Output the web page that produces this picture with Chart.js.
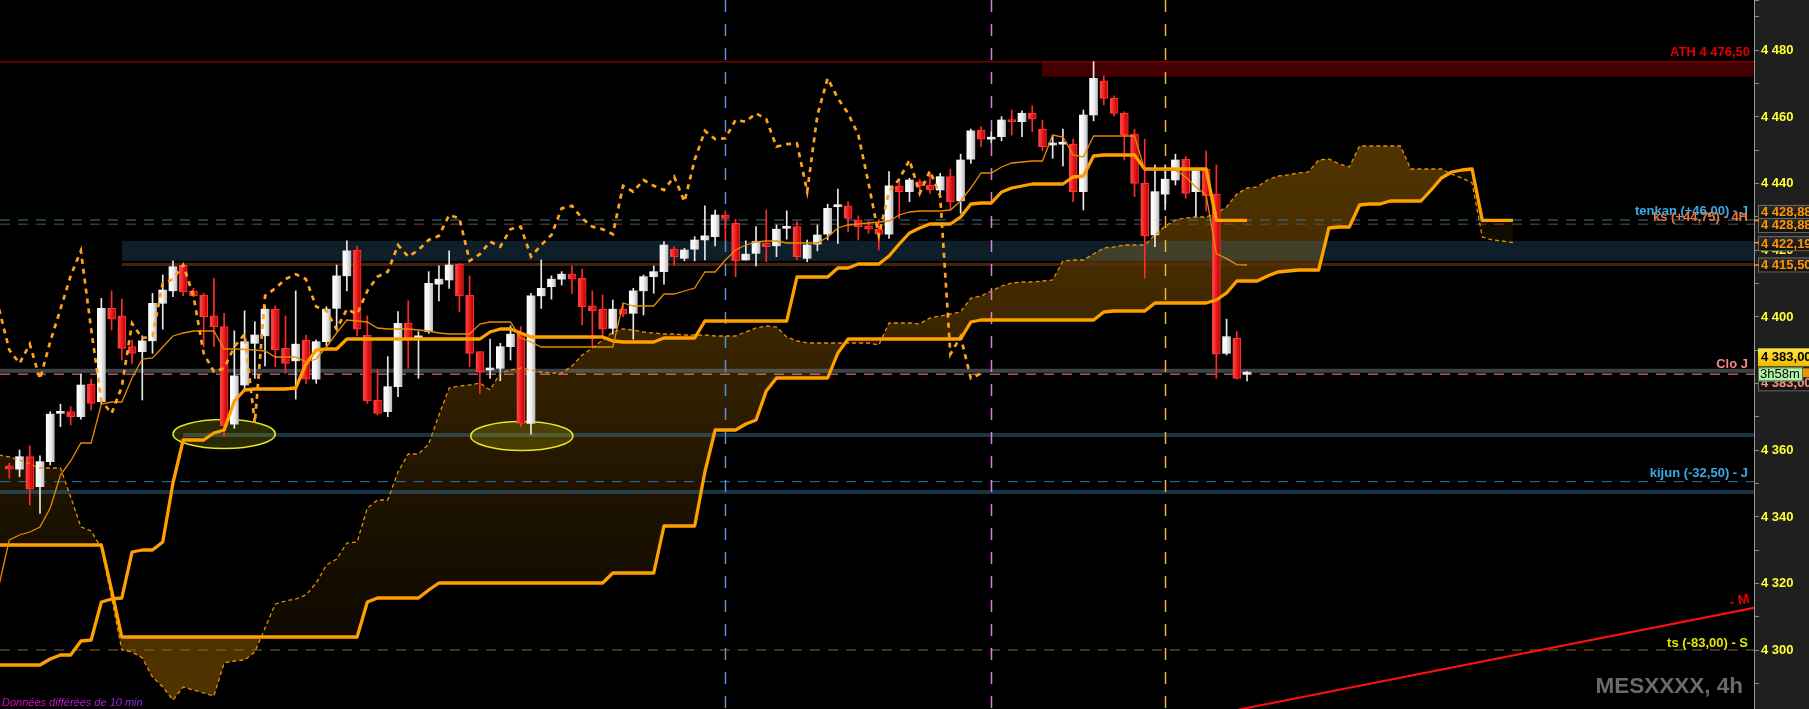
<!DOCTYPE html>
<html lang="fr">
<head>
<meta charset="UTF-8">
<title>MESXXXX, 4h</title>
<script src="https://cdn.jsdelivr.net/npm/chart.js"></script>
<style>
    html, body { margin: 0; padding: 0; background: #000; overflow: hidden; }
    .wrap { width: 1809px; height: 709px; position: relative; }
</style>
</head>
<body>
<div class="wrap"><canvas id="ichimoku"></canvas></div>
<script>
// 4h candles, oldest first (index 0 = first visible bar)
const opens = [
    4355.25, 4354.25, 4358, 4349, 4356.5, 4371, 4371.5, 4370, 4379.75, 4374.5,
    4402.5, 4400.25, 4391, 4389.5, 4392.75, 4404, 4407.75, 4415.5, 4407.75, 4406.5,
    4400.25, 4397, 4367.75, 4379.5, 4392, 4394.25, 4402.25, 4390.5, 4386.75, 4393,
    4381.25, 4392.5, 4402.5, 4412.25, 4420, 4394.5, 4375, 4371.5, 4379, 4398,
    4393.5, 4395.5, 4409.75, 4411, 4415.75, 4406.5, 4389.5, 4384, 4384.5, 4391,
    4395, 4368, 4406.25, 4409, 4411.25, 4412.75, 4411.5, 4403.25, 4402.25, 4396.5,
    4402.25, 4401, 4407.75, 4412, 4413.5, 4420.25, 4417.5, 4420.25, 4423, 4424,
    4430.5, 4428, 4417, 4419, 4422, 4421.25, 4426.5, 4427, 4417.5, 4421.75,
    4424.75, 4433, 4433.25, 4429, 4427.25, 4426.25, 4424.75, 4439.25, 4437.5, 4440.5,
    4439.5, 4438, 4442, 4434.75, 4447.25, 4456, 4453.25, 4454, 4459, 4458.5,
    4461, 4456.25, 4451.5, 4451.75, 4451.75, 4437.5, 4460.5, 4470.75, 4465.5, 4461,
    4454.75, 4440, 4424.5, 4436.75, 4441, 4447.25, 4437.5, 4444.25, 4436.75, 4389,
    4393.5, 4382.75
];
const highs = [
    4356, 4360, 4361.25, 4358.25, 4371.5, 4373.75, 4373, 4382.75, 4381.25, 4405.5,
    4407.75, 4405.25, 4393, 4394.25, 4407, 4412.5, 4416.75, 4416, 4408.5, 4407,
    4411.5, 4401, 4395.75, 4401.75, 4398.5, 4403.25, 4403.25, 4400.25, 4407.75, 4394.5,
    4393, 4403, 4415.5, 4422.75, 4421, 4400.25, 4384.25, 4388, 4401.5, 4404.75,
    4395.5, 4413.5, 4415.25, 4419.75, 4416, 4412.25, 4389.5, 4393.25, 4392, 4397.25,
    4397, 4407, 4417, 4412.25, 4413.5, 4415.25, 4414.25, 4407.75, 4406.5, 4405,
    4404, 4408.5, 4412.5, 4415.25, 4422.5, 4421, 4420.5, 4424, 4433.25, 4432,
    4431.75, 4429.25, 4422.75, 4427, 4432, 4427.5, 4431.75, 4428.5, 4423, 4427.5,
    4433.75, 4438.25, 4434.5, 4430.25, 4428.75, 4429.25, 4443.5, 4441.25, 4441.5, 4441.25,
    4442.75, 4443, 4444.25, 4448.75, 4456.25, 4457, 4455.5, 4460, 4462, 4461.75,
    4463.25, 4459, 4454.5, 4456.25, 4453.25, 4462, 4476.5, 4472.25, 4466.25, 4461.5,
    4456.25, 4453.25, 4445.5, 4445.5, 4448.75, 4448, 4444, 4449.75, 4445.5, 4399.25,
    4395.5, 4383.5
];
const lows = [
    4351.5, 4352, 4343.5, 4341, 4355.5, 4367, 4367.5, 4369.25, 4372, 4373.75,
    4396, 4387, 4386, 4375, 4389, 4396.25, 4406, 4406.25, 4406, 4391,
    4391, 4364, 4366.5, 4378, 4381.5, 4385.25, 4385, 4383, 4375.25, 4380,
    4380, 4391.25, 4396, 4407.75, 4394.25, 4374, 4370.5, 4370, 4376, 4384.5,
    4381.5, 4395, 4404.75, 4408.5, 4401.5, 4385, 4377, 4381.5, 4380.75, 4387,
    4367, 4364.75, 4402.5, 4405.25, 4409.5, 4407, 4397.5, 4391, 4394, 4394.75,
    4400, 4393.25, 4400.5, 4407, 4409.75, 4415.5, 4416.75, 4416.75, 4417, 4421.25,
    4422.75, 4412, 4417, 4415.25, 4416.5, 4418, 4423.25, 4417, 4416.5, 4419.75,
    4423, 4422, 4425.5, 4423, 4425, 4420, 4423.5, 4429.5, 4434.5, 4437.75,
    4437, 4437, 4432, 4431, 4446, 4451, 4452, 4452.75, 4454.5, 4454,
    4455.5, 4449.75, 4447.5, 4445.25, 4434.5, 4432, 4458.75, 4463.5, 4460.25, 4447,
    4436, 4411.5, 4421, 4432, 4439.5, 4435.5, 4430, 4431.75, 4381.5, 4388.5,
    4381.25, 4380.75
];
const closes = [
    4354.25, 4358, 4348.25, 4356.5, 4370.75, 4371.5, 4370, 4379.5, 4374, 4402.5,
    4399.25, 4390.5, 4389, 4392.75, 4404, 4408, 4415, 4407.5, 4406.25, 4400,
    4397, 4367.25, 4382.25, 4392.5, 4394.5, 4402.25, 4390, 4386, 4391.75, 4381.25,
    4392.5, 4402.25, 4412.25, 4419.75, 4396.25, 4374.75, 4371, 4379, 4398, 4393.5,
    4394.25, 4410, 4411.25, 4415.5, 4406.25, 4389, 4383.5, 4384.5, 4391, 4394.75,
    4368, 4406.25, 4408.5, 4411.25, 4412.75, 4411.25, 4403, 4401.75, 4396.25, 4402.25,
    4400.75, 4407.75, 4412, 4413.5, 4421.5, 4418, 4420, 4423, 4424.25, 4430.5,
    4429.5, 4416.75, 4418.75, 4422.5, 4421, 4426.25, 4427, 4418, 4421.5, 4424.5,
    4432.5, 4433.25, 4429.5, 4427, 4426.25, 4424.75, 4439.25, 4437.5, 4441, 4439.25,
    4438, 4442, 4434.5, 4447, 4455.75, 4453.25, 4453.5, 4459, 4458.5, 4461,
    4459.25, 4451, 4451.75, 4452, 4437.5, 4460.5, 4471.5, 4465.5, 4461, 4454.5,
    4440, 4424.25, 4437.5, 4441.25, 4447, 4437, 4443.75, 4436.25, 4388.75, 4394,
    4381.5, 4383
];

// ichimoku lines; they start one bar left of the first candle
const lineStart = -1;
const tenkan = [
    4319.5,
    4333, 4334.5, 4335.4, 4336.9, 4342.6, 4352.5, 4356.7, 4362.1, 4362.1, 4373.8,
    4374.4, 4374.4, 4381.6, 4387.3, 4387.6, 4390.9, 4394.2, 4395.1, 4395.7, 4395.7,
    4395.7, 4390.3, 4390.3, 4390.2, 4390, 4389.7, 4387.9, 4387.9, 4387.9, 4386.4,
    4387.3, 4390.9, 4395.1, 4399, 4398.7, 4398.4, 4396.6, 4396.3, 4396.3, 4396.3,
    4396, 4395.7, 4395.1, 4394.8, 4394.8, 4394.8, 4397.8, 4398.4, 4398.4, 4398.4,
    4393.6, 4392.4, 4390.9, 4390.9, 4390.9, 4390.9, 4390.9, 4390.9, 4390.9, 4390.9,
    4404.1, 4403.2, 4403.2, 4403.2, 4406.8, 4406.8, 4407.7, 4408.6, 4413.4, 4413.4,
    4417, 4420, 4421.5, 4422.4, 4422.7, 4422.7, 4422.1, 4422.1, 4422.1, 4422.1,
    4423.9, 4426.6, 4427.5, 4427.8, 4428.1, 4428.4, 4428.7, 4430.5, 4431.4, 4431.7,
    4431.7, 4431.7, 4432, 4434.7, 4438.6, 4443.1, 4443.1, 4444.9, 4446.1, 4446.4,
    4446.7, 4446.7, 4454.5, 4453.9, 4448.5, 4447.9, 4454.2, 4454.2, 4454.2, 4454.2,
    4454.2, 4444, 4444, 4444, 4444, 4441.9, 4438.9, 4436.5, 4418.9, 4417.4,
    4415.6, 4415.5
];
const kijun = [
    4295.5,
    4295.5, 4295.5, 4295.5, 4295.5, 4297.3, 4298.5, 4298.5, 4302.7, 4303, 4314.4,
    4315.3, 4315.6, 4329.4, 4330, 4330, 4332.4, 4350.1, 4363, 4363, 4363,
    4365.1, 4366, 4374.7, 4378, 4378.3, 4378.3, 4378.3, 4378.3, 4378.6, 4385.8,
    4390, 4390.3, 4390.3, 4393.3, 4393.3, 4393.3, 4393.3, 4393.3, 4393.3, 4393.3,
    4393.3, 4393.3, 4393.3, 4393.3, 4393.3, 4393.3, 4393.3, 4395.4, 4396.3, 4396.3,
    4395.1, 4393.9, 4393.9, 4393.9, 4393.9, 4393.9, 4393.9, 4393.9, 4393.9, 4392.7,
    4392.4, 4392.4, 4392.4, 4392.4, 4393.6, 4393.6, 4393.6, 4393.6, 4398.7, 4398.7,
    4398.7, 4398.7, 4398.7, 4398.7, 4398.7, 4398.7, 4398.7, 4411.9, 4411.9, 4411.9,
    4411.9, 4414.6, 4414.6, 4415.8, 4415.8, 4415.8, 4418.2, 4421.8, 4425.1, 4426.6,
    4427.8, 4427.8, 4427.8, 4429.9, 4433.8, 4434.1, 4434.1, 4437.4, 4438.6, 4439.2,
    4439.8, 4439.8, 4439.8, 4439.8, 4441.9, 4442.2, 4448.2, 4448.5, 4448.5, 4448.5,
    4448.5, 4444.3, 4444.3, 4444.3, 4444.3, 4444.3, 4444.3, 4444.3, 4428.875, 4428.875,
    4428.875, 4428.875
];
// cloud, already shifted 26 bars forward
const spanA = [
    4358.5,
    4357.9, 4357, 4355.8, 4354.6, 4354.6, 4354.6, 4345.9, 4336.9, 4335.7, 4330.6,
    4315.6, 4300, 4299.4, 4297.6, 4291.9, 4288.9, 4285, 4288.9, 4288, 4287.1,
    4286.2, 4296.1, 4296.7, 4297, 4299.4, 4306.6, 4313.8, 4314.7, 4315.3, 4316.5,
    4320.1, 4325.5, 4327.3, 4332.1, 4332.4, 4342.6, 4345, 4345, 4353.4, 4358.8,
    4358.8, 4361.8, 4370.5, 4378.6, 4379.2, 4379.5, 4380.1, 4378, 4383.1, 4384,
    4384.6, 4384, 4383.4, 4383.1, 4383.1, 4385.2, 4388.5, 4390.6, 4393, 4395.4,
    4396.3, 4396, 4395.4, 4395.1, 4394.8, 4394.8, 4394.5, 4394.5, 4394.5, 4394.2,
    4394.2, 4394.2, 4395.4, 4396.6, 4397.2, 4396.9, 4393.9, 4392.7, 4392.1, 4392.1,
    4392.1, 4392.1, 4392.1, 4392.1, 4392.1, 4391.5, 4398.1, 4398.1, 4398.1, 4397.8,
    4399.6, 4400.2, 4400.8, 4401.4, 4405.6, 4406.2, 4407.7, 4409.2, 4410.1, 4410.4,
    4410.4, 4410.7, 4411, 4416.7, 4417, 4417, 4418.8, 4420.6, 4420.9, 4421.5,
    4421.5, 4421.5, 4424.5, 4427.2, 4429, 4429.6, 4429.9, 4429.9, 4431.1, 4432.9,
    4436.8, 4438.6, 4438.9, 4441, 4442.2, 4442.5, 4443.1, 4443.4, 4447, 4447.3,
    4445.8, 4444.9, 4451.2, 4451.2, 4451.2, 4451.2, 4451.2, 4444.3, 4444.3, 4444.3,
    4444.3, 4442.8, 4441.6, 4440.1, 4423.9, 4423, 4422.7, 4422.19
];
const spanB = [
    4331.5,
    4331.5, 4331.5, 4331.5, 4331.5, 4331.5, 4331.5, 4331.5, 4331.5, 4331.5, 4331.5,
    4318, 4303.9, 4303.9, 4303.9, 4303.9, 4303.9, 4303.9, 4303.9, 4303.9, 4303.9,
    4303.9, 4303.9, 4303.9, 4303.9, 4303.9, 4303.9, 4303.9, 4303.9, 4303.9, 4303.9,
    4303.9, 4303.9, 4303.9, 4303.9, 4303.9, 4314.4, 4315.6, 4315.6, 4315.6, 4315.6,
    4315.6, 4318, 4320.1, 4320.1, 4320.1, 4320.1, 4320.1, 4320.1, 4320.1, 4320.1,
    4320.1, 4320.1, 4320.1, 4320.1, 4320.1, 4320.1, 4320.1, 4320.1, 4320.1, 4323.1,
    4323.1, 4323.1, 4323.1, 4323.1, 4337.2, 4337.2, 4337.2, 4337.2, 4353.4, 4366,
    4366, 4366, 4367.8, 4369, 4377.7, 4381.6, 4381.6, 4381.6, 4381.6, 4381.6,
    4381.6, 4389.1, 4393.3, 4393.3, 4393.3, 4393.3, 4393.3, 4393.3, 4393.3, 4393.3,
    4393.3, 4393.3, 4393.3, 4393.3, 4398.4, 4399, 4399, 4399, 4399, 4399,
    4399, 4399, 4399, 4399, 4399, 4399, 4399, 4401.4, 4401.7, 4401.7,
    4401.7, 4401.7, 4404.1, 4404.1, 4404.1, 4404.1, 4404.1, 4404.1, 4405, 4407.1,
    4410.7, 4410.7, 4410.7, 4412.2, 4413.4, 4413.7, 4414, 4414, 4414, 4426.6,
    4426.9, 4426.9, 4433.5, 4433.8, 4433.8, 4434.7, 4434.7, 4434.7, 4434.7, 4438,
    4441.6, 4443.4, 4444, 4444.3, 4428.875, 4428.875, 4428.875, 4428.875
];
const chikouShift = 26;

// horizontal levels with their right-hand captions
const levelLabels = ['ATH 4 476,50', 'tenkan (+46,00) - J', 'ks (+44,75) - 4H', 'Clo J', 'kijun (-32,50) - J', 'ts (-83,00) - S'];
const levelPrices = [4476.5, 4429, 4427.75, 4382.75, 4350.5, 4300];
const lastPrice = 4383.75;
const tenkanH4 = 4415.5;
// zones: first bar, low, high
const zoneStarts = [100.95, 11, 17, -1];
const zoneLows = [4472, 4416.75, 4363.9, 4346.8];
const zoneHighs = [4476.5, 4422.75, 4365.1, 4348];
// session separators (bar index)
const sessionBars = [70, 96, 113];
// circled lows (bar, price)
const circleBars = [21, 50.1];
const circlePrices = [4364.8, 4364.2];
// monthly trend line
const trendBars = [120, 171];
const trendPrices = [4282, 4312.9];
// price axis
const yTicks = [4300, 4320, 4340, 4360, 4380, 4400, 4420, 4440, 4460, 4480];
const axisBoxPrices = [4428.875, 4428.875, 4422.19, 4415.5];
const axisBoxTexts = ['4 428,88', '4 428,88', '4 422,19', '4 415,50'];
const priceText = '4 383,00';
const timerText = '3h58m';

// visible window
const xMin = -0.91, xMax = 170.56;
const yMin = 4282.3, yMax = 4495;

const FONT = '"Liberation Sans", Arial, sans-serif';
const canvas = document.getElementById('ichimoku');
const c2d = canvas.getContext('2d');

function vGrad(stops) {
    const g = c2d.createLinearGradient(0, 0, 0, 709);
    stops.forEach(s => g.addColorStop(s[0], s[1]));
    return g;
}
const cloudUp = vGrad([[0, 'rgb(86,56,0)'], [0.2, 'rgb(80,52,0)'], [0.37, 'rgb(70,45,0)'], [0.56, 'rgb(48,30,0)'], [0.7, 'rgb(30,19,0)'], [0.85, 'rgb(18,11,0)'], [1, 'rgb(12,7,0)']]);
const cloudDown = vGrad([[0, 'rgb(18,11,0)'], [0.33, 'rgb(18,11,0)'], [0.82, 'rgb(74,48,0)'], [1, 'rgb(80,52,0)']]);

function isUp(i) { return closes[i] >= opens[i]; }

function bodyColor(c) {
    if (c.type !== 'data') return '#e52020';
    const i = c.dataIndex;
    const chart = c.chart;
    if (!chart.chartArea || !chart.scales.x) return isUp(i) ? '#eeeeee' : '#e52020';
    const x = chart.scales.x.getPixelForValue(i);
    const g = chart.ctx.createLinearGradient(x - 4, 0, x + 4, 0);
    if (isUp(i)) {
        g.addColorStop(0, '#ffffff'); g.addColorStop(0.5, '#f2f2f2'); g.addColorStop(1, '#bcbcbc');
    } else {
        g.addColorStop(0, '#ff5050'); g.addColorStop(0.5, '#e81c1c'); g.addColorStop(1, '#b80000');
    }
    return g;
}

const toPoints = (arr, start) => arr.map((v, i) => ({ x: i + start, y: v }));

function hline(ctx, x0, x1, y, color, width, dash) {
    ctx.save();
    ctx.strokeStyle = color;
    ctx.lineWidth = width;
    ctx.setLineDash(dash || []);
    ctx.beginPath();
    ctx.moveTo(x0, y);
    ctx.lineTo(x1, y);
    ctx.stroke();
    ctx.restore();
}

const levelStyle = [
    { text: '#e00000', line: '#7c0000', w: 1.5, dash: [], dy: -9 },
    { text: '#3caae6', line: '#2b7aa6', w: 1, dash: [10, 8], dy: -9 },
    { text: '#e8783c', line: '#7a4630', w: 1, dash: [10, 8], dy: -7 },
    { text: '#f08a8a', line: '#ff8a8a', w: 1, dash: [10, 8], dy: -10 },
    { text: '#3caae6', line: '#2b7aa6', w: 1, dash: [10, 8], dy: -8 },
    { text: '#e6e600', line: '#77771c', w: 1, dash: [10, 8], dy: -7 }
];
const zoneColors = ['#440000', 'rgba(50,115,155,0.27)', 'rgba(60,125,165,0.42)', 'rgba(60,125,165,0.42)'];
const sessionColors = ['#5b8fd6', '#e07ce0', '#f2b13a'];
const boxNudge = [-8, 5, 1, 0];

const overlay = {
    id: 'overlay',
    beforeDraw(chart) {
        const { ctx, chartArea: a, width, height } = chart;
        ctx.save();
        ctx.fillStyle = '#000';
        ctx.fillRect(0, 0, width, height);
        ctx.fillStyle = '#1f1f1f';
        ctx.fillRect(a.right, 0, width - a.right, height);
        ctx.restore();
    },
    beforeDatasetsDraw(chart) {
        const { ctx, chartArea: a } = chart;
        const xs = chart.scales.x, ys = chart.scales.y;
        ctx.save();
        ctx.beginPath();
        ctx.rect(a.left, a.top, a.right - a.left, a.bottom - a.top);
        ctx.clip();

        // zones
        zoneStarts.forEach((s, i) => {
            const x0 = Math.max(a.left, xs.getPixelForValue(s));
            const yTop = ys.getPixelForValue(zoneHighs[i]);
            const yBot = ys.getPixelForValue(zoneLows[i]);
            ctx.fillStyle = zoneColors[i];
            ctx.fillRect(x0, yTop, a.right - x0, yBot - yTop);
        });
        // 4h tenkan level under the blue zone
        hline(ctx, xs.getPixelForValue(zoneStarts[1]), a.right, ys.getPixelForValue(tenkanH4) - 0.5, 'rgba(95,45,18,0.75)', 3, []);
        // last price
        hline(ctx, a.left, a.right, ys.getPixelForValue(lastPrice), 'rgba(110,120,130,0.55)', 4, []);
        // levels
        levelPrices.forEach((p, i) => {
            const st = levelStyle[i];
            hline(ctx, a.left, a.right, ys.getPixelForValue(p), st.line, st.w, st.dash);
        });
        // session separators
        sessionBars.forEach((b, i) => {
            const x = Math.round(xs.getPixelForValue(b)) + 0.5;
            ctx.save();
            ctx.strokeStyle = sessionColors[i];
            ctx.lineWidth = 1.5;
            ctx.setLineDash([12, 12]);
            ctx.beginPath();
            ctx.moveTo(x, a.top);
            ctx.lineTo(x, a.bottom);
            ctx.stroke();
            ctx.restore();
        });
        // circled lows
        circleBars.forEach((b, i) => {
            const cx = xs.getPixelForValue(b);
            const cy = ys.getPixelForValue(circlePrices[i]);
            const rx = xs.getPixelForValue(b + 5) - cx;
            const ry = ys.getPixelForValue(circlePrices[i] - 4.35) - cy;
            ctx.beginPath();
            ctx.ellipse(cx, cy, rx, ry, 0, 0, Math.PI * 2);
            ctx.fillStyle = 'rgba(190,190,0,0.22)';
            ctx.fill();
            ctx.strokeStyle = '#e6e61a';
            ctx.lineWidth = 1.5;
            ctx.stroke();
        });
        ctx.restore();
    },
    afterDatasetsDraw(chart) {
        const { ctx, chartArea: a } = chart;
        const xs = chart.scales.x, ys = chart.scales.y;
        ctx.save();
        ctx.font = 'bold 13px ' + FONT;
        ctx.textAlign = 'right';
        ctx.textBaseline = 'middle';
        levelLabels.forEach((t, i) => {
            const st = levelStyle[i];
            ctx.fillStyle = st.text;
            ctx.fillText(t, a.right - (i === 0 ? 4 : 6), ys.getPixelForValue(levelPrices[i]) + st.dy);
        });
        // trend line tag
        const tx = xs.getPixelForValue(trendBars[1]);
        const ty = ys.getPixelForValue(trendPrices[1]);
        ctx.save();
        ctx.translate(tx - 9, ty - 8);
        ctx.rotate(-0.196);
        ctx.font = 'bold 14px ' + FONT;
        ctx.fillStyle = '#e00000';
        ctx.fillText('- M', 0, 0);
        ctx.restore();

        // watermark
        ctx.font = 'bold 22.5px ' + FONT;
        ctx.fillStyle = '#6b6b6b';
        ctx.fillText('MESXXXX, 4h', a.right - 11, 687);
        // delayed data notice
        ctx.textAlign = 'left';
        ctx.font = 'italic 11px ' + FONT;
        const g = ctx.createLinearGradient(2, 0, 142, 0);
        g.addColorStop(0, '#e600c8');
        g.addColorStop(1, '#8a2be2');
        ctx.fillStyle = g;
        ctx.fillText('Données différées de 10 min', 2, 703);
        ctx.restore();
    },
    afterDraw(chart) {
        const { ctx, chartArea: a, width } = chart;
        const ys = chart.scales.y;
        ctx.save();
        ctx.font = 'bold 13px ' + FONT;
        ctx.textAlign = 'left';
        ctx.textBaseline = 'middle';
        ctx.fillStyle = '#ffff33';
        yTicks.forEach(v => {
            const t = Math.floor(v / 1000) + ' ' + String(v % 1000).padStart(3, '0');
            ctx.fillText(t, a.right + 7, ys.getPixelForValue(v) + 0.5);
        });

        const bx = a.right + 4;
        // level boxes
        axisBoxPrices.forEach((p, i) => {
            const y = ys.getPixelForValue(p) + boxNudge[i];
            const g = ctx.createLinearGradient(0, y - 7.5, 0, y + 7.5);
            g.addColorStop(0, '#2e2e2e');
            g.addColorStop(1, '#0c0c0c');
            ctx.fillStyle = g;
            ctx.fillRect(bx, y - 7.5, width - bx + 2, 15);
            ctx.strokeStyle = '#6a6a6a';
            ctx.lineWidth = 1;
            ctx.strokeRect(bx + 0.5, y - 7, width - bx + 2, 14);
            ctx.fillStyle = '#ff9600';
            ctx.fillText(axisBoxTexts[i], a.right + 7, y + 0.5);
            hline(ctx, a.right, a.right + 5, ys.getPixelForValue(p), '#ff9600', 1.5, []);
        });

        const py = ys.getPixelForValue(lastPrice - 0.75);
        // close-of-day box (partly hidden)
        ctx.fillStyle = '#161616';
        ctx.fillRect(bx, py + 1, width - bx, 17);
        ctx.strokeStyle = '#6a6a6a';
        ctx.strokeRect(bx + 0.5, py + 1.5, width - bx, 16);
        ctx.fillStyle = '#ff8a8a';
        ctx.fillText(priceText, a.right + 7, py + 10);
        // orange sliver
        ctx.fillStyle = '#e89400';
        ctx.fillRect(a.right + 49, py - 5, width - a.right - 49, 9);
        // last price box
        const g2 = ctx.createLinearGradient(0, py - 25, 0, py - 7);
        g2.addColorStop(0, '#ffe640');
        g2.addColorStop(1, '#f2b600');
        ctx.fillStyle = g2;
        ctx.fillRect(bx, py - 25, width - bx, 18);
        ctx.fillStyle = '#000';
        ctx.fillText(priceText, a.right + 7, py - 16);
        // timer box
        ctx.fillStyle = '#b2f2a6';
        ctx.fillRect(bx, py - 6, 45, 14);
        ctx.strokeStyle = '#4a7a4a';
        ctx.strokeRect(bx + 0.5, py - 5.5, 44, 13);
        ctx.font = '13px ' + FONT;
        ctx.fillStyle = '#000';
        ctx.fillText(timerText, a.right + 6, py + 1.5);
        ctx.restore();
    }
};

const candleIdx = opens.map((_, i) => i);

new Chart(canvas, {
    type: 'bar',
    data: {
        datasets: [
            {
                type: 'line', label: 'Senkou A', data: toPoints(spanA, lineStart),
                borderColor: '#e38f00', borderWidth: 1.3, borderDash: [4, 3],
                pointRadius: 0, tension: 0,
                fill: { target: 1, above: cloudUp, below: cloudDown }, order: 4
            },
            {
                type: 'line', label: 'Senkou B', data: toPoints(spanB, lineStart),
                borderColor: '#ffa000', borderWidth: 3.3, pointRadius: 0, tension: 0,
                borderJoinStyle: 'round', fill: false, order: 3
            },
            {
                label: 'wicks', data: candleIdx.map(i => ({ x: i, y: [lows[i], highs[i]] })),
                backgroundColor: candleIdx.map(i => isUp(i) ? '#e8e8e8' : '#ff2a2a'),
                barThickness: 1, grouped: false, order: 10
            },
            {
                label: 'bodies', data: candleIdx.map(i => ({ x: i, y: [opens[i], closes[i]] })),
                backgroundColor: bodyColor,
                borderColor: candleIdx.map(i => isUp(i) ? 'rgba(0,0,0,0)' : '#ff3535'),
                borderWidth: candleIdx.map(i => isUp(i) ? 0 : 1),
                borderSkipped: false, barThickness: 8, minBarLength: 2,
                grouped: false, order: 9
            },
            {
                type: 'line', label: 'Tenkan', data: toPoints(tenkan, lineStart),
                borderColor: '#e68a00', borderWidth: 1.3, pointRadius: 0, tension: 0, order: 2
            },
            {
                type: 'line', label: 'Kijun', data: toPoints(kijun, lineStart),
                borderColor: '#ffa000', borderWidth: 3.3, pointRadius: 0, tension: 0,
                borderJoinStyle: 'round', order: 2
            },
            {
                type: 'line', label: 'Chikou', data: closes.map((c, i) => ({ x: i - chikouShift, y: c })),
                borderColor: '#ffa31a', borderWidth: 2.7, borderDash: [5, 5],
                pointRadius: 0, tension: 0, order: 1
            },
            {
                type: 'line', label: 'trend', data: trendBars.map((b, i) => ({ x: b, y: trendPrices[i] })),
                borderColor: '#ff1010', borderWidth: 2, pointRadius: 0, order: 0
            }
        ]
    },
    options: {
        responsive: true,
        maintainAspectRatio: false,
        animation: false,
        devicePixelRatio: 1,
        events: [],
        layout: { padding: 0 },
        plugins: {
            legend: { display: false },
            tooltip: { enabled: false },
            filler: { drawTime: 'beforeDatasetsDraw' }
        },
        scales: {
            x: { type: 'linear', display: false, min: xMin, max: xMax, offset: false, grid: { offset: false } },
            y: {
                position: 'right', min: yMin, max: yMax, beginAtZero: false,
                ticks: { display: false, stepSize: 10 },
                grid: { drawOnChartArea: false, drawTicks: true, tickLength: 5, color: '#8c8c8c' },
                border: { display: true, color: '#9a9a9a', width: 1 },
                afterFit(scale) { scale.width = 55; }
            }
        }
    },
    plugins: [overlay]
});
</script>
</body>
</html>
